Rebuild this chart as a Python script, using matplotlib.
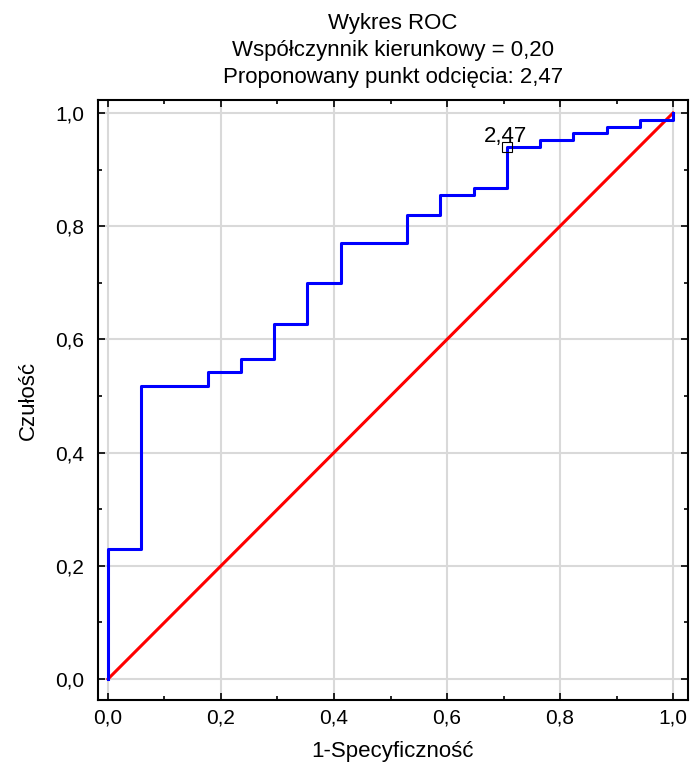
import numpy as np
import matplotlib.pyplot as plt
from matplotlib.ticker import MultipleLocator, FuncFormatter

plt.rcParams['font.family'] = ['Liberation Sans', 'DejaVu Sans']

# 1-specyficznosc (progi) i czulosc krzywej ROC
fpr = [0.0, 0.0, 0.0588, 0.0588, 0.1765, 0.1765, 0.2353, 0.2353, 0.2941, 0.2941,
       0.3529, 0.3529, 0.4118, 0.4118, 0.5294, 0.5294, 0.5882, 0.5882, 0.6471, 0.6471,
       0.7059, 0.7059, 0.7647, 0.7647, 0.8235, 0.8235, 0.8824, 0.8824, 0.9412, 0.9412,
       1.0, 1.0]
tpr = [0.0, 0.229, 0.229, 0.518, 0.518, 0.542, 0.542, 0.566, 0.566, 0.627,
       0.627, 0.699, 0.699, 0.771, 0.771, 0.819, 0.819, 0.855, 0.855, 0.867,
       0.867, 0.940, 0.940, 0.952, 0.952, 0.964, 0.964, 0.976, 0.976, 0.988,
       0.988, 1.0]
diag = [0.0, 1.0]
cut_x, cut_y, cut_label = 0.7059, 0.940, "2,47"

fig = plt.figure(figsize=(6.92, 7.66), dpi=100)
ax = fig.add_axes([0.1416, 0.0862, 0.8526, 0.7833])

ax.plot(diag, diag, color="red", lw=2.2, zorder=3)
ax.plot(fpr, tpr, color="blue", lw=2.2, zorder=4)
ax.plot([cut_x], [cut_y], marker="s", ms=7, mfc="none", mec="black", mew=0.8, zorder=5)
ax.text(cut_x - 0.003, cut_y + 0.009, cut_label, ha="center", va="baseline", fontsize=16)

ax.set_xlim(-0.0177, 1.0265)
ax.set_ylim(-0.037, 1.023)
ax.xaxis.set_major_locator(MultipleLocator(0.2))
ax.yaxis.set_major_locator(MultipleLocator(0.2))
ax.xaxis.set_minor_locator(MultipleLocator(0.1))
ax.yaxis.set_minor_locator(MultipleLocator(0.1))
fmt = FuncFormatter(lambda v, p: f"{v:.1f}".replace(".", ","))
ax.xaxis.set_major_formatter(fmt)
ax.yaxis.set_major_formatter(fmt)
ax.tick_params(which="both", direction="in", top=True, right=True, labelsize=15, width=1.2)
ax.tick_params(which="major", length=5)
ax.tick_params(which="minor", length=3)
ax.tick_params(axis="x", pad=6)
ax.tick_params(axis="y", pad=10)
ax.grid(True, which="major", color="#d9d9d9", lw=1.5, zorder=0)
ax.set_axisbelow(True)
for s in ax.spines.values():
    s.set_linewidth(1.5)

ax.set_xlabel("1-Specyficzność", fontsize=16)
ax.set_ylabel("Czułość", fontsize=16)
ax.xaxis.set_label_coords(0.5, -0.069)
ax.yaxis.set_label_coords(-0.10, 0.5)
ax.set_title("Wykres ROC\nWspółczynnik kierunkowy = 0,20\nProponowany punkt odcięcia: 2,47",
             fontsize=16, linespacing=1.38, pad=12)

fig.savefig("out.png", dpi=100)
